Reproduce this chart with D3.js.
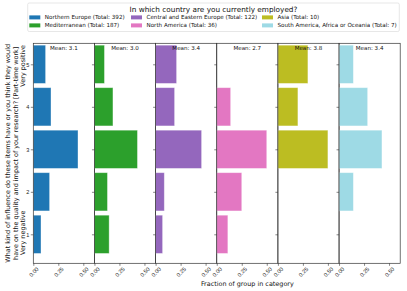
<!DOCTYPE html>
<html><head><meta charset="utf-8">
<script src="https://cdn.jsdelivr.net/npm/d3@7"></script>
<style>body{margin:0;background:#fff}svg{display:block;font-family:"DejaVu Sans",sans-serif}</style>
</head><body><svg id="c" width="407" height="291"></svg>
<script>
const groups = ["Northern Europe","Mediterranean","Central and Eastern Europe","North America","Asia","South America, Africa or Oceania"];
const totals = [392,187,122,36,10,7];
const colors = ["#1f77b4","#2ca02c","#9467bd","#e377c2","#bcbd22","#9edae5"];
const means = ["3.1","3.0","3.4","2.7","3.8","3.4"];
const categories = [1,2,3,4,5];
// fractions for categories 1..5 per group
const fractions = [
  [0.077,0.163,0.447,0.177,0.123],
  [0.147,0.130,0.430,0.185,0.100],
  [0.070,0.087,0.460,0.190,0.210],
  [0.111,0.250,0.500,0.139,0.000],
  [0.000,0.000,0.500,0.200,0.300],
  [0.000,0.143,0.429,0.286,0.143]
];
const xTicks = [0,0.25,0.5];
const yLabelLines = ["What kind of influence do these items have or you think they would","have on the quality and impact of your research? [Part-time work]"];

(function(){
const svg = d3.select("#c");
// fit a font size so that a sample string has a given width
function fit(str, target){
  const t = svg.append("text").attr("font-size",10).text(str);
  const w = t.node().getComputedTextLength(); t.remove();
  return 10*target/w;
}
const fsLegend = fit("Central and Eastern Europe (Total: 122)", 111);
const fsTitle = fit("In which country are you currently employed?", 168);
const fsMean = fit("Mean: 3.1", 27.7);
const fsXL = fit("Fraction of group in category", 93);
const fsYL = fit(yLabelLines[0], 219);
const fsTick = fsMean;

const left = 33.3, panelW = 61.15, pTop = 43.3, pBottom = 263.3;
const y = d3.scaleLinear().domain([0.318,5.494]).range([pBottom,pTop]);

groups.forEach((g,i)=>{
  const x0 = left + i*panelW;
  const x = d3.scaleLinear().domain([0,0.6115]).range([x0,x0+panelW]);
  const p = svg.append("g");
  p.selectAll("rect.bar").data(fractions[i].map((v,k)=>({v,c:categories[k]}))).enter()
    .append("rect").attr("class","bar")
    .attr("x",x(0)).attr("y",d=>y(d.c+0.45)).attr("width",d=>x(d.v)-x(0)).attr("height",d=>y(d.c-0.45)-y(d.c+0.45))
    .attr("fill",colors[i]).attr("stroke",d=>d.v>0?"#fff":"none").attr("stroke-opacity",0.45).attr("stroke-width",0.8);
  const ax = p.append("g").attr("transform",`translate(0,${pBottom})`)
    .call(d3.axisBottom(x).tickValues(xTicks).tickFormat(d3.format(".2f")).tickSize(2.5).tickSizeOuter(0));
  ax.select(".domain").remove();
  ax.selectAll("line").attr("stroke","#333").attr("stroke-width",0.6);
  ax.selectAll("text").attr("font-size",fsTick).attr("fill","#222").attr("dy",null).attr("y",null)
    .attr("text-anchor","middle").attr("dominant-baseline","central")
    .attr("transform","translate(0,8.6) rotate(-45)");
  const ay = p.append("g").attr("transform",`translate(${x0},0)`)
    .call(d3.axisLeft(y).tickValues(categories).tickFormat(i===0?d3.format("d"):"").tickSize(2.5).tickSizeOuter(0));
  ay.select(".domain").remove();
  ay.selectAll("line").attr("stroke","#333").attr("stroke-width",0.6);
  ay.selectAll("text").attr("font-size",fsTick).attr("fill","#222").attr("x",-4);
  p.append("rect").attr("x",x0).attr("y",pTop).attr("width",panelW).attr("height",pBottom-pTop)
    .attr("fill","none").attr("stroke","#333").attr("stroke-width",0.7);
  p.append("text").attr("x",x0+panelW/2).attr("y",50).attr("text-anchor","middle")
    .attr("font-size",fsMean).attr("fill","#111").text("Mean: "+means[i]);
  if(i===3){
    p.append("text").attr("x",x0+panelW/2).attr("y",286.3).attr("text-anchor","middle")
      .attr("font-size",fsXL).attr("fill","#111").text("Fraction of group in category");
  }
});

const cy = (pTop+pBottom)/2;
const yl = svg.append("g");
yLabelLines.forEach((t,k)=>{
  yl.append("text").attr("transform",`translate(${10.4+k*7.3},${cy}) rotate(-90)`).attr("text-anchor","middle")
    .attr("font-size",fsYL).attr("fill","#111").text(t);
});
yl.append("text").attr("transform",`translate(${25},${255}) rotate(-90)`).attr("text-anchor","start")
  .attr("font-size",fsYL).attr("fill","#111").text("Very negative");
yl.append("text").attr("transform",`translate(${25},${45}) rotate(-90)`).attr("text-anchor","end")
  .attr("font-size",fsYL).attr("fill","#111").text("Very positive");

const lg = svg.append("g");
lg.append("rect").attr("x",27.7).attr("y",3).attr("width",371.6).attr("height",28.5).attr("rx",1.5)
  .attr("fill","#fff").attr("fill-opacity",0.8).attr("stroke","#ddd").attr("stroke-width",0.7);
lg.append("text").attr("x",213.5).attr("y",11.8).attr("text-anchor","middle").attr("font-size",fsTitle).attr("fill","#111")
  .text("In which country are you currently employed?");
const colX = [29.3,131,262];
groups.forEach((g,i)=>{
  const col = Math.floor(i/2), row = i%2;
  const yy = 17.4 + row*8;
  lg.append("rect").attr("x",colX[col]).attr("y",yy-2).attr("width",11).attr("height",4).attr("fill",colors[i]);
  lg.append("text").attr("x",colX[col]+15.5).attr("y",yy).attr("dominant-baseline","central")
    .attr("font-size",fsLegend).attr("fill","#111").text(`${g} (Total: ${totals[i]})`);
});
})();
</script></body></html>
